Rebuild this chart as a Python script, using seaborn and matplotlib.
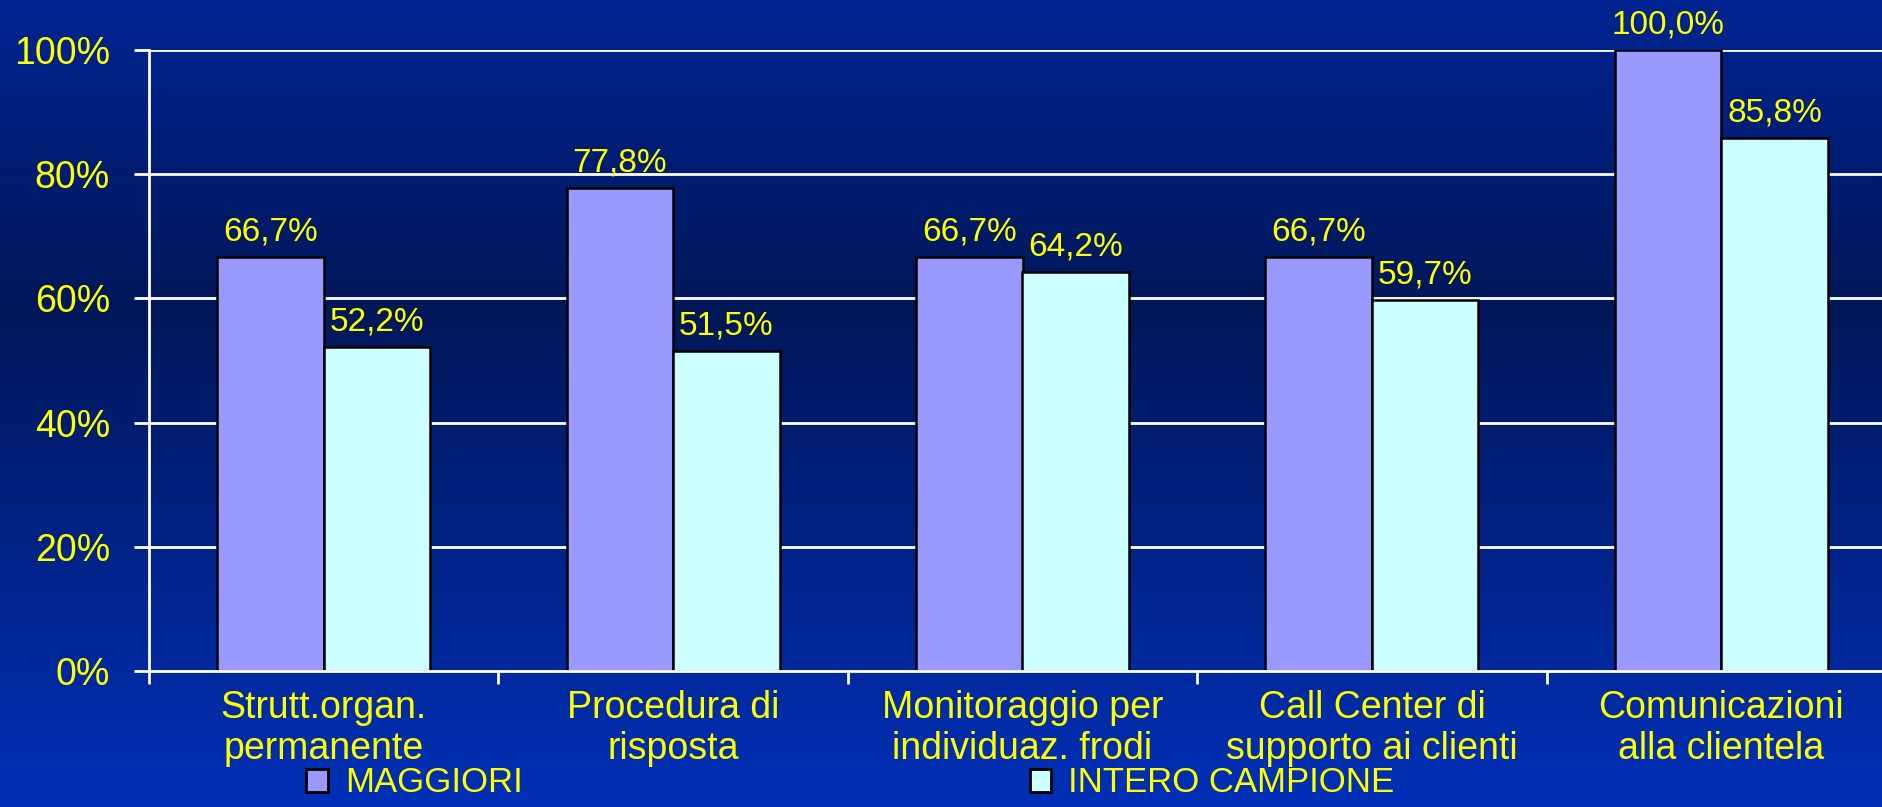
import numpy as np
import pandas as pd
import matplotlib
matplotlib.use("Agg")
import matplotlib.pyplot as plt
from matplotlib.patches import Patch
from matplotlib.colors import LinearSegmentedColormap
import seaborn as sns

# --- data -------------------------------------------------------------
categories = [
    "Strutt.organ.\npermanente",
    "Procedura di\nrisposta",
    "Monitoraggio per\nindividuaz. frodi",
    "Call Center di\nsupporto ai clienti",
    "Comunicazioni\nalla clientela",
]
series_names = ["MAGGIORI", "INTERO CAMPIONE"]
maggiori = [66.7, 77.8, 66.7, 66.7, 100.0]
intero_campione = [52.2, 51.5, 64.2, 59.7, 85.8]
y_ticks = [0, 20, 40, 60, 80, 100]
y_tick_labels = ["0%", "20%", "40%", "60%", "80%", "100%"]

# --- styling ----------------------------------------------------------
sns.set_theme(style="white")
plt.rcParams["font.family"] = ["Liberation Sans", "DejaVu Sans"]
YELLOW = "#FFFF00"
bar_colors = ["#9999FF", "#CCFFFF"]
FS = 27

df = pd.DataFrame({
    "categoria": categories * 2,
    "gruppo": [series_names[0]] * len(categories) + [series_names[1]] * len(categories),
    "valore": maggiori + intero_campione,
})

W, H, DPI = 1883, 807, 100
fig = plt.figure(figsize=(W / DPI, H / DPI), dpi=DPI)

# blue vertical gradient behind everything
bg = fig.add_axes([0, 0, 1, 1], zorder=-10)
grad_cmap = LinearSegmentedColormap.from_list(
    "sfondo",
    [(0.0, (0 / 255, 36 / 255, 146 / 255)),
     (0.38, (0 / 255, 23 / 255, 88 / 255)),
     (1.0, (0 / 255, 48 / 255, 184 / 255))],
)
bg.imshow(np.linspace(0, 1, 512).reshape(-1, 1), aspect="auto", cmap=grad_cmap,
          extent=[0, 1, 0, 1], origin="upper")
bg.set_axis_off()

ax = fig.add_axes([149 / W, 136 / H, 1747 / W, 621 / H])
ax.set_facecolor("none")

sns.barplot(data=df, x="categoria", y="valore", hue="gruppo",
            palette=bar_colors, width=0.61, edgecolor="black", linewidth=1.8,
            saturation=1, ax=ax, legend=False, errorbar=None, zorder=3)

for container, vals in zip(ax.containers, [maggiori, intero_campione]):
    ax.bar_label(container,
                 labels=[f"{v:.1f}%".replace(".", ",") for v in vals],
                 padding=7, color=YELLOW, fontsize=24)

ax.set_xlim(-0.5, len(categories) - 0.5)
ax.set_ylim(0, 100)
ax.set_yticks(y_ticks)
ax.set_yticklabels(y_tick_labels)
ax.set_xlabel("")
ax.set_ylabel("")

# grid
ax.grid(False)
for t in y_ticks[1:]:
    ax.axhline(t, color="white", linewidth=2, zorder=1)

for side in ["top", "right"]:
    ax.spines[side].set_visible(False)
for side in ["left", "bottom"]:
    ax.spines[side].set_color("white")
    ax.spines[side].set_linewidth(2)
    ax.spines[side].set_zorder(4)

ax.tick_params(axis="y", colors="white", labelcolor=YELLOW, labelsize=FS,
               length=11, width=2, direction="out", pad=17, left=True)
# category labels at centres, tick marks at boundaries
ax.tick_params(axis="x", which="major", length=0, labelcolor=YELLOW,
               labelsize=FS, pad=14)
ax.set_xticks(np.arange(-0.5, len(categories) + 0.5, 1), minor=True)
ax.tick_params(axis="x", which="minor", colors="white", length=9, width=2,
               direction="out", bottom=True)
for lab in ax.get_xticklabels():
    lab.set_linespacing(1.15)

handles = [Patch(facecolor=c, edgecolor="black", linewidth=2) for c in bar_colors]
fig.legend(handles, series_names, ncol=2, loc="center left",
           bbox_to_anchor=(306 / W, 24 / H), frameon=False,
           borderpad=0, borderaxespad=0,
           fontsize=25, labelcolor=YELLOW, handlelength=0.62, handleheight=0.62,
           handletextpad=0.5, columnspacing=14.6)

fig.savefig("out.png", dpi=DPI)
